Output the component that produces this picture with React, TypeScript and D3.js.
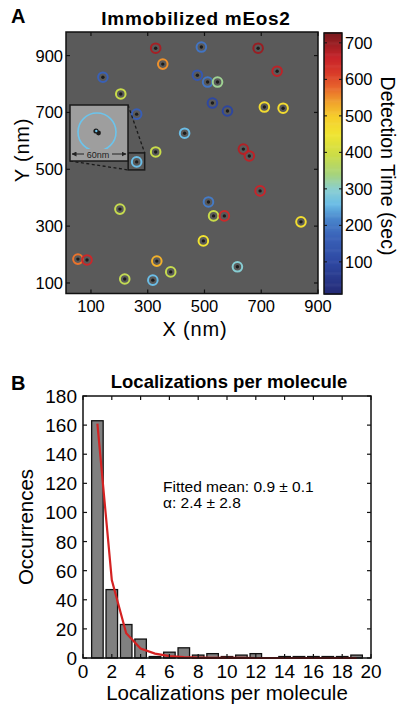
import React from "react";
import * as d3 from "d3";

// ---------- Panel A data ----------
const pointX = [328, 489, 689, 353, 142, 475, 511, 546, 756, 205, 528, 581, 711, 777, 261, 430, 328, 637, 658, 261, 202, 696, 514, 532, 570, 840, 496, 54, 86, 332, 381, 219, 318, 616];
const pointY = [926, 930, 926, 870, 824, 831, 807, 807, 845, 765, 733, 705, 719, 715, 694, 627, 561, 571, 547, 526, 360, 424, 385, 336, 336, 315, 248, 184, 181, 177, 139, 114, 110, 157];
const pointT = [690, 195, 700, 550, 165, 140, 195, 330, 670, 390, 100, 95, 470, 470, 160, 260, 390, 680, 670, 260, 385, 660, 205, 390, 650, 465, 455, 570, 655, 525, 385, 380, 260, 295];
const axisTicksA = [100, 300, 500, 700, 900];
const colorTicks = [100, 200, 300, 400, 500, 600, 700];
const cmapValues = [12, 100, 170, 220, 260, 300, 340, 390, 450, 500, 540, 580, 620, 660, 727];
const cmapColors = ["#252a75", "#2e48a2", "#3a62b8", "#4a86cc", "#6bbde6", "#8bcfd0", "#a6d37e", "#c9dc4a", "#f0e532", "#f6cd2c", "#f0a02c", "#e8642c", "#d83a2a", "#c8242a", "#7a1a1e"];

// ---------- Panel B data ----------
const binCenters = [1, 2, 3, 4, 5, 6, 7, 8, 9, 10, 11, 12, 13, 14, 15, 16, 17, 18, 19];
const counts = [163, 47, 23, 13, 1, 4, 7, 2, 3, 1, 2, 3, 0, 1, 1, 1, 1, 1, 2];
const fitValues = [161, 53.5, 17, 6.5, 3, 1.3, 0.6, 0.3, 0.15, 0.1, 0.05, 0, 0, 0, 0, 0, 0, 0, 0];
const xTicksB = [0, 2, 4, 6, 8, 10, 12, 14, 16, 18, 20];
const yTicksB = [0, 20, 40, 60, 80, 100, 120, 140, 160, 180];

const FONT = "'Liberation Sans', Arial, sans-serif";

export default function App() {
  // Panel A scales
  const xA = d3.scaleLinear().domain([12, 900]).range([66, 318]);
  const yA = d3.scaleLinear().domain([63, 983]).range([293.5, 32]);
  const cbar = d3.scaleLinear().domain([12, 727]).range([294, 33]);
  const color = d3.scaleLinear<string>().domain(cmapValues).range(cmapColors).interpolate(d3.interpolateRgb);

  // Panel B scales
  const xB = d3.scaleLinear().domain([0, 20]).range([83, 371]);
  const yB = d3.scaleLinear().domain([0, 180]).range([658, 396]);
  const barW = xB(0.8) - xB(0);
  const fitLine = d3.line<number>().x((d, i) => xB(binCenters[i])).y((d) => yB(d));

  const cbSteps = d3.range(12, 727, 3);

  // inset target point (index 19)
  const tx = xA(pointX[19]);
  const ty = yA(pointY[19]);
  const inset = { x0: 70, y0: 105, x1: 128, y1: 161 };
  const sb = { x0: tx - 8.5, y0: ty - 9, x1: tx + 8, y1: ty + 8 };

  const [ax0, ax1] = xA.range();
  const [ay0, ay1] = [yA.range()[1], yA.range()[0]];

  return (
    <svg width={398} height={706} style={{ position: "absolute", left: 0, top: 0, background: "#fff" }} fontFamily={FONT}>
      <defs>
        <marker id="arr" viewBox="0 0 10 10" refX="9" refY="5" markerWidth="5" markerHeight="5" orient="auto-start-reverse">
          <path d="M0,0 L10,5 L0,10 z" fill="#222" />
        </marker>
      </defs>

      {/* ---------------- Panel A ---------------- */}
      <text x={11} y={23} fontSize={20} fontWeight="bold">A</text>
      <text x={196} y={25} fontSize={19} fontWeight="bold" textAnchor="middle" letterSpacing={0.7}>Immobilized mEos2</text>

      <rect x={ax0} y={ay0} width={ax1 - ax0} height={ay1 - ay0} fill="#5a5a5a" />

      {pointX.map((px, i) => (
        <g key={i}>
          <circle cx={xA(px)} cy={yA(pointY[i])} r={4.8} fill="none" stroke={color(pointT[i])} strokeWidth={2} />
          <circle cx={xA(px)} cy={yA(pointY[i])} r={1.7} fill="#1c1c1c" />
        </g>
      ))}

      {/* inset */}
      <line x1={inset.x1} y1={inset.y0} x2={sb.x1} y2={sb.y0} stroke="#1a1a1a" strokeWidth={1.3} strokeDasharray="3,2.5" />
      <line x1={inset.x0} y1={inset.y1} x2={sb.x0} y2={sb.y1} stroke="#1a1a1a" strokeWidth={1.3} strokeDasharray="3,2.5" />
      <rect x={sb.x0} y={sb.y0} width={sb.x1 - sb.x0} height={sb.y1 - sb.y0} fill="none" stroke="#1a1a1a" strokeWidth={1.5} />
      <rect x={inset.x0} y={inset.y0} width={inset.x1 - inset.x0} height={inset.y1 - inset.y0} fill="#9e9e9e" stroke="#1a1a1a" strokeWidth={1.5} />
      <circle cx={97} cy={132} r={19} fill="none" stroke="#6cc4ec" strokeWidth={1.6} />
      <circle cx={96} cy={131} r={2.6} fill="#1a1a1a" />
      <circle cx={98.5} cy={133} r={2.4} fill="#1a1a1a" />
      <circle cx={96.3} cy={131} r={1.2} fill="#6cc4ec" />
      <line x1={72} y1={154} x2={126} y2={154} stroke="#222" strokeWidth={1} markerStart="url(#arr)" markerEnd="url(#arr)" />
      <rect x={84} y={149} width={28} height={9} fill="#9e9e9e" />
      <text x={98} y={157.5} fontSize={9} textAnchor="middle" fill="#222">60nm</text>

      {/* frame & ticks */}
      <rect x={ax0} y={ay0} width={ax1 - ax0} height={ay1 - ay0} fill="none" stroke="#111" strokeWidth={1.5} />
      {axisTicksA.map((t) => (
        <g key={"xa" + t}>
          <line x1={xA(t)} x2={xA(t)} y1={ay1} y2={ay1 - 4} stroke="#111" strokeWidth={1.2} />
          <line x1={xA(t)} x2={xA(t)} y1={ay0} y2={ay0 + 4} stroke="#111" strokeWidth={1.2} />
          <text x={xA(t)} y={312} fontSize={16.5} textAnchor="middle">{t}</text>
        </g>
      ))}
      {axisTicksA.map((t) => (
        <g key={"ya" + t}>
          <line x1={ax0} x2={ax0 + 4} y1={yA(t)} y2={yA(t)} stroke="#111" strokeWidth={1.2} />
          <line x1={ax1} x2={ax1 - 4} y1={yA(t)} y2={yA(t)} stroke="#111" strokeWidth={1.2} />
          <text x={63} y={yA(t) + 6} fontSize={16.5} textAnchor="end">{t}</text>
        </g>
      ))}
      <text x={195} y={336} fontSize={20} textAnchor="middle" letterSpacing={0.8}>X (nm)</text>
      <text transform={`translate(29,150) rotate(-90)`} fontSize={20} textAnchor="middle" letterSpacing={0.8}>Y (nm)</text>

      {/* colorbar */}
      {cbSteps.map((v) => (
        <rect key={"cb" + v} x={324} y={cbar(v + 3)} width={18} height={cbar(v) - cbar(v + 3) + 0.6} fill={color(v + 1.5)} />
      ))}
      <rect x={324} y={33} width={18} height={261} fill="none" stroke="#111" strokeWidth={1.5} />
      {colorTicks.map((t) => (
        <g key={"ct" + t}>
          <line x1={324} x2={327} y1={cbar(t)} y2={cbar(t)} stroke="#111" strokeWidth={1} />
          <line x1={342} x2={339} y1={cbar(t)} y2={cbar(t)} stroke="#111" strokeWidth={1} />
          <text x={345} y={cbar(t) + 6} fontSize={16.5}>{t}</text>
        </g>
      ))}
      <text transform={`translate(381,166) rotate(90)`} fontSize={19.5} textAnchor="middle">Detection Time (sec)</text>

      {/* ---------------- Panel B ---------------- */}
      <text x={11} y={390} fontSize={20} fontWeight="bold">B</text>
      <text x={229} y={388} fontSize={18.5} fontWeight="bold" textAnchor="middle">Localizations per molecule</text>

      {counts.map((c, i) => (
        <rect key={"b" + i} x={xB(binCenters[i]) - barW / 2} y={yB(c)} width={barW} height={yB(0) - yB(c)} fill="#808080" stroke="#111" strokeWidth={1.3} />
      ))}
      <path d={fitLine(fitValues) || ""} fill="none" stroke="#d42222" strokeWidth={2.2} />

      <rect x={83} y={396} width={288} height={262} fill="none" stroke="#111" strokeWidth={1.5} />
      {xTicksB.map((t) => (
        <g key={"xb" + t}>
          <line x1={xB(t)} x2={xB(t)} y1={658} y2={654} stroke="#111" strokeWidth={1.2} />
          <line x1={xB(t)} x2={xB(t)} y1={396} y2={400} stroke="#111" strokeWidth={1.2} />
          <text x={xB(t)} y={678} fontSize={19} textAnchor="middle">{t}</text>
        </g>
      ))}
      {yTicksB.map((t) => (
        <g key={"yb" + t}>
          <line x1={83} x2={87} y1={yB(t)} y2={yB(t)} stroke="#111" strokeWidth={1.2} />
          <line x1={371} x2={367} y1={yB(t)} y2={yB(t)} stroke="#111" strokeWidth={1.2} />
          <text x={77} y={yB(t) + 7} fontSize={19} textAnchor="end">{t}</text>
        </g>
      ))}
      <text x={163} y={492} fontSize={15.5}>Fitted mean: 0.9 ± 0.1</text>
      <text x={163} y={508} fontSize={15.5}>α: 2.4 ± 2.8</text>

      <text x={227} y={700} fontSize={20.5} textAnchor="middle">Localizations per molecule</text>
      <text transform={`translate(33,527) rotate(-90)`} fontSize={20.5} textAnchor="middle">Occurrences</text>
    </svg>
  );
}
